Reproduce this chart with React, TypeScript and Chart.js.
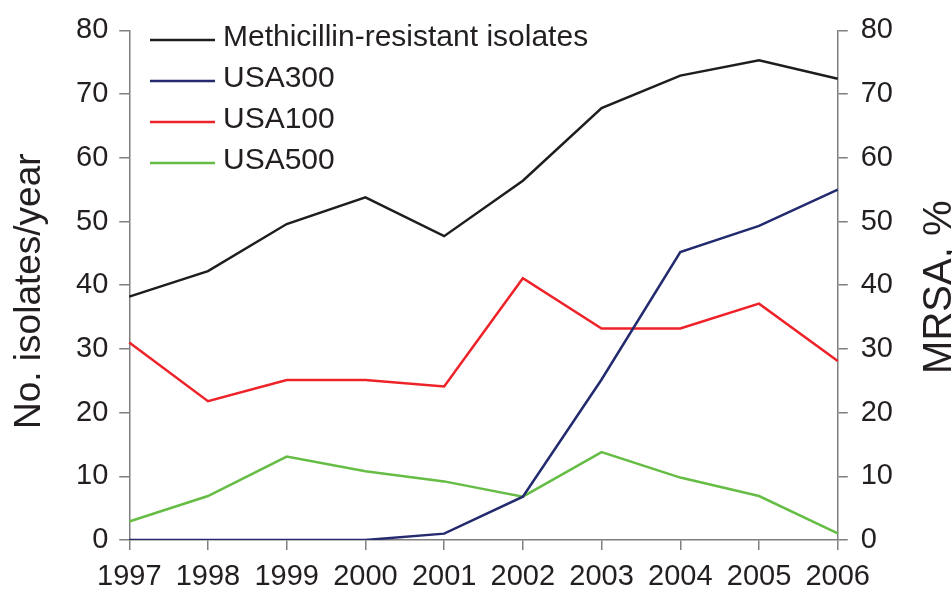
import React, { useEffect, useRef } from "react";
import { Chart, registerables } from "chart.js";

Chart.register(...registerables);

const years = ["1997", "1998", "1999", "2000", "2001", "2002", "2003", "2004", "2005", "2006"];
const methicillinResistant = [38.2, 42.2, 49.6, 53.8, 47.7, 56.4, 67.8, 72.9, 75.3, 72.4];
const usa300 = [0, 0, 0, 0, 1, 6.8, 25.2, 45.2, 49.3, 55];
const usa100 = [31, 21.8, 25.1, 25.1, 24.1, 41.1, 33.2, 33.2, 37.1, 28.1];
const usa500 = [2.9, 6.9, 13.1, 10.8, 9.2, 6.8, 13.8, 9.8, 6.9, 1.05];
const seriesLabels = ["Methicillin-resistant isolates", "USA300", "USA100", "USA500"];
const seriesColors = ["#1e1e1e", "#232a6e", "#ee2229", "#66bd45"];
const leftTitle = "No. isolates/year";
const rightTitle = "MRSA, %";
const yTicks = [0, 10, 20, 30, 40, 50, 60, 70, 80];

const FONT = "'Liberation Sans', Arial, sans-serif";
const TEXT = "#231f20";
const AXIS = "#7f7f7f";

const extrasPlugin = {
  id: "extras",
  afterDraw(chart: any) {
    const ctx = chart.ctx;
    ctx.save();
    // legend
    ctx.font = `30px ${FONT}`;
    ctx.textAlign = "left";
    ctx.textBaseline = "alphabetic";
    chart.data.datasets.forEach((ds: any, i: number) => {
      const y = 40 + i * 41;
      ctx.strokeStyle = ds.borderColor;
      ctx.lineWidth = 2.5;
      ctx.beginPath();
      ctx.moveTo(150, y);
      ctx.lineTo(215, y);
      ctx.stroke();
      ctx.fillStyle = TEXT;
      ctx.fillText(ds.label, 223, y + 6);
    });
    // axis titles
    const ys = chart.scales.y;
    const mid = (ys.top + ys.bottom) / 2;
    ctx.fillStyle = TEXT;
    ctx.textAlign = "center";
    ctx.font = `37px ${FONT}`;
    ctx.save();
    ctx.translate(40, mid + 6);
    ctx.rotate(-Math.PI / 2);
    ctx.fillText(leftTitle, 0, 0);
    ctx.restore();
    ctx.font = `40px ${FONT}`;
    ctx.save();
    ctx.translate(951, mid + 2);
    ctx.rotate(-Math.PI / 2);
    ctx.fillText(rightTitle, 0, 0);
    ctx.restore();
    ctx.restore();
  },
};

export default function App() {
  const ref = useRef<HTMLCanvasElement | null>(null);
  useEffect(() => {
    if (!ref.current) return;
    const data = [methicillinResistant, usa300, usa100, usa500];
    const chart = new Chart(ref.current, {
      type: "line",
      data: {
        labels: years,
        datasets: data.map((d, i) => ({
          label: seriesLabels[i],
          data: d,
          borderColor: seriesColors[i],
          backgroundColor: seriesColors[i],
          borderWidth: 2.5,
          pointRadius: 0,
          tension: 0,
          yAxisID: "y",
        })),
      },
      options: {
        animation: false,
        responsive: false,
        devicePixelRatio: 1,
        layout: { padding: { left: 65, right: 46, top: 29, bottom: -14 } },
        plugins: { legend: { display: false }, tooltip: { enabled: false } },
        scales: {
          x: {
            type: "category",
            offset: false,
            grid: { display: true, drawOnChartArea: false, drawTicks: true, tickLength: 10, color: AXIS, lineWidth: 1.5, offset: false },
            border: { display: true, color: AXIS, width: 1.5 },
            ticks: { color: TEXT, font: { family: FONT, size: 29, lineHeight: 1 }, padding: 12, maxRotation: 0, autoSkip: false },
          },
          y: {
            position: "left",
            min: 0,
            max: 80,
            afterBuildTicks: (s: any) => { s.ticks = yTicks.map((v) => ({ value: v })); },
            grid: { display: true, drawOnChartArea: false, drawTicks: true, tickLength: 10, color: AXIS, lineWidth: 1.5 },
            border: { display: true, color: AXIS, width: 1.5 },
            ticks: { color: TEXT, font: { family: FONT, size: 29 }, padding: 11 },
          },
          y1: {
            position: "right",
            min: 0,
            max: 80,
            afterBuildTicks: (s: any) => { s.ticks = yTicks.map((v) => ({ value: v })); },
            grid: { display: true, drawOnChartArea: false, drawTicks: true, tickLength: 10, color: AXIS, lineWidth: 1.5 },
            border: { display: true, color: AXIS, width: 1.5 },
            ticks: { color: TEXT, font: { family: FONT, size: 29 }, padding: 13 },
          },
        },
      },
      plugins: [extrasPlugin],
    } as any);
    return () => chart.destroy();
  }, []);
  return (
    <div style={{ position: "absolute", left: 0, top: 0, width: 952, height: 589, background: "#fff" }}>
      <canvas ref={ref} width={952} height={589} style={{ display: "block" }} />
    </div>
  );
}
